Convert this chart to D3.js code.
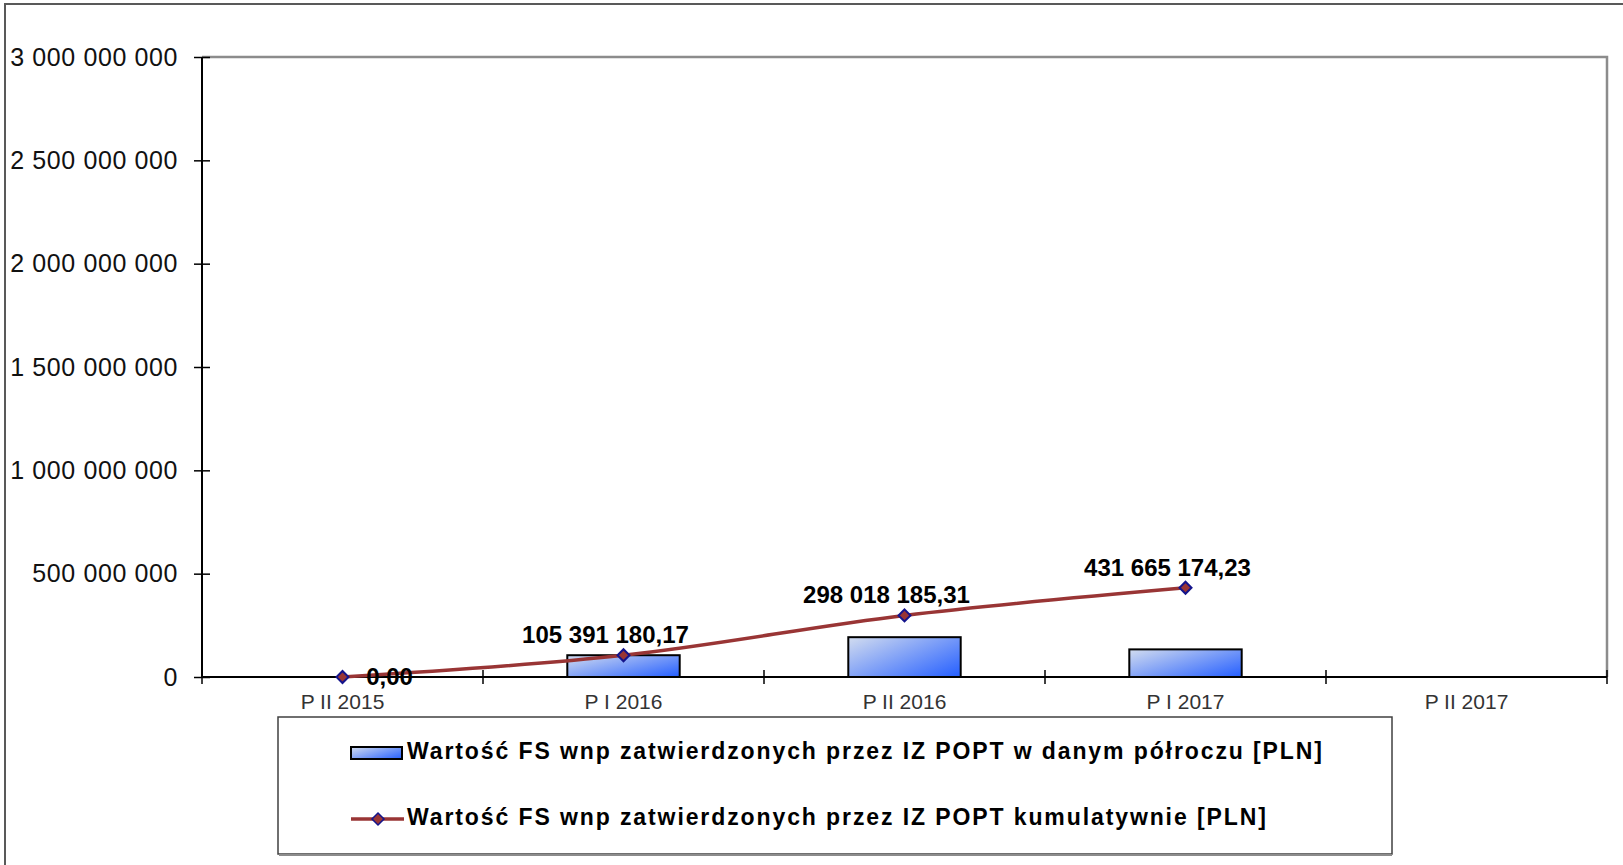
<!DOCTYPE html>
<html>
<head>
<meta charset="utf-8">
<script src="https://cdn.jsdelivr.net/npm/d3@7"></script>
<style>
  body { margin: 0; background: #fff; }
  svg { display: block; font-family: "Liberation Sans", Arial, sans-serif; }
</style>
</head>
<body>
<svg width="1623" height="865"></svg>
<script>
// data
const categories = ["P II 2015", "P I 2016", "P II 2016", "P I 2017", "P II 2017"];
const halfYear = [0, 105391180.17, 192627005.14, 133646988.92, null];
const cumulative = [0, 105391180.17, 298018185.31, 431665174.23, null];
const yTicks = [0, 500000000, 1000000000, 1500000000, 2000000000, 2500000000, 3000000000];
const legendLabels = [
  "Wartość FS wnp zatwierdzonych przez IZ POPT w danym półroczu [PLN]",
  "Wartość FS wnp zatwierdzonych przez IZ POPT kumulatywnie [PLN]"
];

const svg = d3.select("svg"),
  width = +svg.attr("width"),
  height = +svg.attr("height");

const plot = {left: 202, right: 1607, top: 57, bottom: 677};

const pl = d3.formatLocale({decimal: ",", thousands: " ", grouping: [3], currency: ["", " zł"]});
const fmtAxis = pl.format(",.0f");
const fmtLabel = pl.format(",.2f");

// outer frame
svg.append("rect")
  .attr("x", 5).attr("y", 4)
  .attr("width", width + 20).attr("height", height + 20)
  .attr("fill", "#fff")
  .attr("stroke", "#595959")
  .attr("stroke-width", 2);

// gradient for bars
const defs = svg.append("defs");
const grad = defs.append("linearGradient")
  .attr("id", "barGrad")
  .attr("x1", "0").attr("y1", "0.1")
  .attr("x2", "1").attr("y2", "0.9");
grad.append("stop").attr("offset", "0%").attr("stop-color", "#cbd7f0");
grad.append("stop").attr("offset", "100%").attr("stop-color", "#2c64ff");

// scales
const x = d3.scaleBand()
  .domain(categories)
  .range([plot.left, plot.right])
  .paddingInner(0.6)
  .paddingOuter(0.3);

const y = d3.scaleLinear()
  .domain([0, 3000000000])
  .range([plot.bottom, plot.top]);

const cx = c => x(c) + x.bandwidth() / 2;

// plot border (top / right grey)
svg.append("path")
  .attr("d", `M${plot.left},${plot.top}H${plot.right}V${plot.bottom}`)
  .attr("fill", "none")
  .attr("stroke", "#8c8c8c")
  .attr("stroke-width", 2.5);

// bars
svg.append("g")
  .selectAll("rect")
  .data(categories.map((c, i) => ({c, v: halfYear[i]})).filter(d => d.v !== null && d.v > 0))
  .join("rect")
    .attr("x", d => x(d.c))
    .attr("y", d => y(d.v))
    .attr("width", x.bandwidth())
    .attr("height", d => y(0) - y(d.v))
    .attr("fill", "url(#barGrad)")
    .attr("stroke", "#000")
    .attr("stroke-width", 2);

// y axis
const yAxis = svg.append("g")
  .attr("transform", `translate(${plot.left},0)`)
  .call(d3.axisLeft(y).tickValues(yTicks).tickFormat(fmtAxis).tickSize(8).tickPadding(16));
yAxis.select(".domain").attr("stroke", "#000").attr("stroke-width", 2).attr("d", `M0,${plot.top}V${plot.bottom}`);
yAxis.selectAll(".tick line").attr("x1", 8).attr("stroke", "#000").attr("stroke-width", 1.5);
yAxis.selectAll(".tick text")
  .attr("font-size", 25)
  .attr("letter-spacing", "0.6px")
  .attr("font-family", "Liberation Sans, Arial, sans-serif")
  .attr("fill", "#111");

// x axis
const xAxis = svg.append("g")
  .attr("transform", `translate(0,${plot.bottom})`)
  .call(d3.axisBottom(x).tickSize(0).tickPadding(17));
xAxis.select(".domain").remove();
xAxis.selectAll(".tick text")
  .attr("font-size", 21)
  .attr("font-family", "Liberation Sans, Arial, sans-serif")
  .attr("fill", "#333");
xAxis.append("line")
  .attr("x1", plot.left).attr("x2", plot.right)
  .attr("stroke", "#000").attr("stroke-width", 2);
xAxis.selectAll(".bound")
  .data(d3.range(categories.length + 1))
  .join("line")
    .attr("class", "bound")
    .attr("x1", i => plot.left + i * x.step())
    .attr("x2", i => plot.left + i * x.step())
    .attr("y1", -7).attr("y2", 7)
    .attr("stroke", "#000").attr("stroke-width", 1.5);

// cumulative line
const pts = categories.map((c, i) => ({c, v: cumulative[i]})).filter(d => d.v !== null);
const line = d3.line()
  .x(d => cx(d.c))
  .y(d => y(d.v))
  .curve(d3.curveCatmullRom);

svg.append("path")
  .datum(pts)
  .attr("d", line)
  .attr("fill", "none")
  .attr("stroke", "#993535")
  .attr("stroke-width", 3.5);

const diamond = d3.symbol().type(d3.symbolSquare).size(72);
svg.append("g")
  .selectAll("path")
  .data(pts)
  .join("path")
    .attr("d", diamond)
    .attr("transform", d => `translate(${cx(d.c)},${y(d.v)}) rotate(45)`)
    .attr("fill", "#993535")
    .attr("stroke", "#14148c")
    .attr("stroke-width", 2);

// data labels
svg.append("g")
  .selectAll("text")
  .data(pts)
  .join("text")
    .attr("x", d => d.v === 0 ? cx(d.c) + 47 : cx(d.c) - 18)
    .attr("y", d => d.v === 0 ? y(d.v) + 8 : y(d.v) - 12)
    .attr("text-anchor", "middle")
    .attr("font-size", 24)
    .attr("font-weight", "bold")
    .attr("fill", "#000")
    .text(d => fmtLabel(d.v));

// legend
const lg = svg.append("g");
lg.append("rect")
  .attr("x", 278).attr("y", 717)
  .attr("width", 1114).attr("height", 137)
  .attr("fill", "#fff")
  .attr("stroke", "#404040")
  .attr("stroke-width", 1.5);
lg.append("line")
  .attr("x1", 279).attr("x2", 1392)
  .attr("y1", 855).attr("y2", 855)
  .attr("stroke", "#8c8c8c").attr("stroke-width", 2);

lg.append("rect")
  .attr("x", 351).attr("y", 747)
  .attr("width", 51).attr("height", 12)
  .attr("fill", "url(#barGrad)")
  .attr("stroke", "#000").attr("stroke-width", 2);
lg.append("line")
  .attr("x1", 351).attr("x2", 404)
  .attr("y1", 819).attr("y2", 819)
  .attr("stroke", "#993535").attr("stroke-width", 3.5);
lg.append("path")
  .attr("d", diamond)
  .attr("transform", "translate(378,819) rotate(45)")
  .attr("fill", "#993535")
  .attr("stroke", "#14148c")
  .attr("stroke-width", 1.5);

lg.selectAll("text.lab")
  .data(legendLabels)
  .join("text")
    .attr("class", "lab")
    .attr("x", 407)
    .attr("y", (d, i) => 759 + i * 66)
    .attr("font-size", 23)
    .attr("letter-spacing", "1.9px")
    .attr("font-weight", "bold")
    .attr("fill", "#000")
    .text(d => d);
</script>
</body>
</html>
